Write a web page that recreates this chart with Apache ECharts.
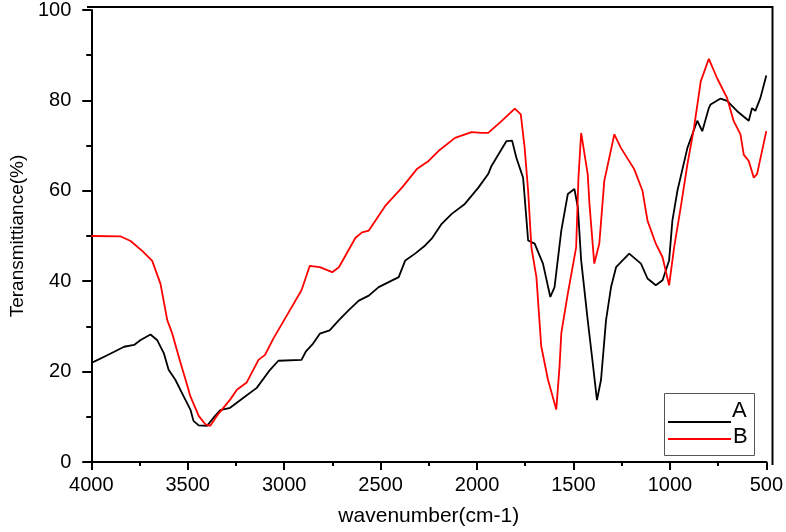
<!DOCTYPE html>
<html>
<head>
<meta charset="utf-8">
<script src="https://cdn.jsdelivr.net/npm/echarts@6/dist/echarts.min.js"></script>
<style>
html,body{margin:0;padding:0;background:#fff;}
#chart{width:786px;height:532px;}
</style>
</head>
<body>
<div id="chart"></div>
<script>
// Wavenumber (cm-1) and transmittance (%) pairs
const seriesNames = ['A', 'B'];
const xTicks = [4000, 3500, 3000, 2500, 2000, 1500, 1000, 500];
const yTicks = [0, 20, 40, 60, 80, 100];

const dataA = [
  [4000, 22], [3985, 22.2], [3933, 23.3], [3881, 24.4], [3830, 25.5], [3778, 25.9], [3744, 27],
  [3693, 28.2], [3659, 27], [3624, 24.1], [3599, 20.4], [3564, 18.2], [3521, 14.5], [3486, 11.6],
  [3470, 9.1], [3443, 8.1], [3400, 8.0], [3366, 9.8], [3331, 11.5], [3280, 12], [3211, 14.2],
  [3142, 16.4], [3073, 20.4], [3030, 22.4], [2910, 22.6], [2888, 24.4], [2850, 26.2], [2815, 28.4],
  [2764, 29.1], [2716, 31.4], [2665, 33.6], [2613, 35.7], [2561, 36.8], [2510, 38.7], [2458, 39.8],
  [2406, 40.9], [2372, 44.6], [2321, 46.1], [2269, 47.9], [2235, 49.4], [2183, 52.7], [2131, 54.9],
  [2063, 57.1], [1993, 60.7], [1942, 63.7], [1925, 65.5], [1847, 71], [1818, 71.1], [1796, 67.3],
  [1773, 64.4], [1761, 62.9], [1735, 49], [1701, 48.3], [1658, 43.9], [1620, 36.5], [1598, 38.7],
  [1563, 51.2], [1529, 59.3], [1495, 60.4], [1477, 56.3], [1460, 44.6], [1426, 31.4], [1400, 21.9],
  [1378, 13.7], [1357, 18.2], [1331, 31.4], [1305, 38.7], [1279, 43.1], [1254, 44.2], [1211, 46.1],
  [1150, 43.9], [1116, 40.6], [1073, 39.1], [1038, 40.2], [1004, 44.6], [987, 53.4], [961, 60],
  [909, 69.5], [858, 75.5], [832, 73.2], [798, 78.3], [789, 79.1], [737, 80.4], [703, 79.9],
  [651, 77.6], [591, 75.5], [574, 78.3], [557, 77.7], [531, 80.5], [500, 85.5]
];

const dataB = [
  [4000, 50], [3847, 49.9], [3796, 48.9], [3736, 46.7], [3684, 44.5], [3641, 39.4], [3606, 31.4],
  [3580, 28.4], [3537, 21.9], [3511, 18.2], [3486, 14.5], [3443, 10.2], [3408, 8.3], [3383, 8.0],
  [3349, 10.2], [3280, 13.8], [3245, 16], [3194, 17.6], [3133, 22.6], [3099, 23.7], [3056, 27.3],
  [2970, 33.6], [2910, 38], [2867, 43.4], [2815, 43.1], [2751, 42], [2716, 43.1], [2630, 49.6],
  [2596, 50.8], [2561, 51.2], [2475, 56.7], [2389, 60.7], [2312, 64.8], [2251, 66.6], [2200, 68.8],
  [2114, 71.7], [2028, 73], [1976, 72.8], [1942, 72.8], [1873, 75.4], [1804, 78.2], [1773, 76.9],
  [1753, 69.5], [1735, 60], [1718, 47.5], [1692, 40.9], [1667, 25.6], [1632, 18.2], [1589, 11.6],
  [1572, 21.2], [1563, 28.5], [1529, 37.3], [1486, 47.5], [1474, 62.9], [1460, 72.8], [1426, 63.7],
  [1417, 57.1], [1392, 43.9], [1366, 48.3], [1340, 62.2], [1288, 72.5], [1254, 69.5], [1185, 64.8],
  [1142, 60], [1116, 53.4], [1073, 48.3], [1038, 45.3], [1004, 39.1], [978, 47.5], [944, 56.3],
  [909, 65.9], [875, 73.9], [840, 84.2], [798, 89.2], [755, 84.9], [703, 80.5], [669, 75.4],
  [634, 72.5], [617, 68], [591, 66.6], [565, 62.9], [548, 63.7], [500, 73.2]
];

const FONT = '"Liberation Sans", Arial, sans-serif';
const chart = echarts.init(document.getElementById('chart'), null, {renderer: 'canvas'});

chart.setOption({
  animation: false,
  backgroundColor: '#fff',
  grid: {left: 87, right: 18, top: 7, bottom: 69, containLabel: false},
  xAxis: {
    type: 'value',
    inverse: true,
    min: xTicks[xTicks.length - 1],
    max: xTicks[0],
    interval: 500,
    name: 'wavenumber(cm-1)',
    nameLocation: 'middle',
    nameGap: 44,
    nameTextStyle: {fontFamily: FONT, fontSize: 21, color: '#000'},
    axisLine: {show: true, lineStyle: {color: '#000', width: 2}},
    axisTick: {show: true, length: 8, lineStyle: {color: '#000', width: 2}},
    minorTick: {show: true, splitNumber: 2, length: 4, lineStyle: {color: '#000', width: 2}},
    splitLine: {show: false},
    axisLabel: {margin: 13, fontFamily: FONT, fontSize: 20, color: '#000',
      formatter: v => xTicks.includes(v) ? String(v) : ''}
  },
  yAxis: {
    type: 'value',
    min: yTicks[0],
    max: yTicks[yTicks.length - 1],
    interval: 20,
    name: 'Teransmittiance(%)',
    nameLocation: 'middle',
    nameRotate: 90,
    nameGap: 64,
    nameTextStyle: {fontFamily: FONT, fontSize: 19, color: '#000'},
    axisLine: {show: true, lineStyle: {color: '#000', width: 2}},
    axisTick: {show: true, length: 9, lineStyle: {color: '#000', width: 2}},
    minorTick: {show: true, splitNumber: 2, length: 5, lineStyle: {color: '#000', width: 2}},
    splitLine: {show: false},
    axisLabel: {margin: 20, fontFamily: FONT, fontSize: 20, color: '#000'}
  },
  legend: [
    {
      data: [seriesNames[0]],
      left: 668, top: 399, padding: 0,
      itemWidth: 63, itemHeight: 24, itemGap: 0,
      icon: 'path://M0,0 L0,0 M0,22 L63,22 L63,24 L0,24 Z',
      itemStyle: {borderWidth: 0},
      textStyle: {fontFamily: FONT, fontSize: 22, lineHeight: 24, color: '#000', padding: [0, 0, 0, -4]}
    },
    {
      data: [seriesNames[1]],
      left: 668, top: 425, padding: 0,
      itemWidth: 63, itemHeight: 6, itemGap: 0,
      icon: 'path://M0,0 L0,0 M0,4 L63,4 L63,6 L0,6 Z',
      itemStyle: {borderWidth: 0},
      textStyle: {fontFamily: FONT, fontSize: 22, lineHeight: 24, color: '#000', padding: [0, 0, 0, -3]}
    }
  ],
  graphic: [
    {type: 'rect', z: 3, shape: {x: 664.5, y: 393.5, width: 90, height: 62},
      style: {fill: '#fff', stroke: '#555', lineWidth: 1}},
    {type: 'polyline', z: 3, shape: {points: [[87, 7], [772.5, 7], [772.5, 465]]},
      style: {fill: null, stroke: '#000', lineWidth: 2}}
  ],
  series: [
    {name: seriesNames[0], type: 'line', data: dataA, showSymbol: false, symbol: 'none',
      color: '#000', lineStyle: {color: '#000', width: 1.8}, z: 2},
    {name: seriesNames[1], type: 'line', data: dataB, showSymbol: false, symbol: 'none',
      color: '#ff0000', lineStyle: {color: '#ff0000', width: 1.8}, z: 3}
  ]
});
</script>
</body>
</html>
